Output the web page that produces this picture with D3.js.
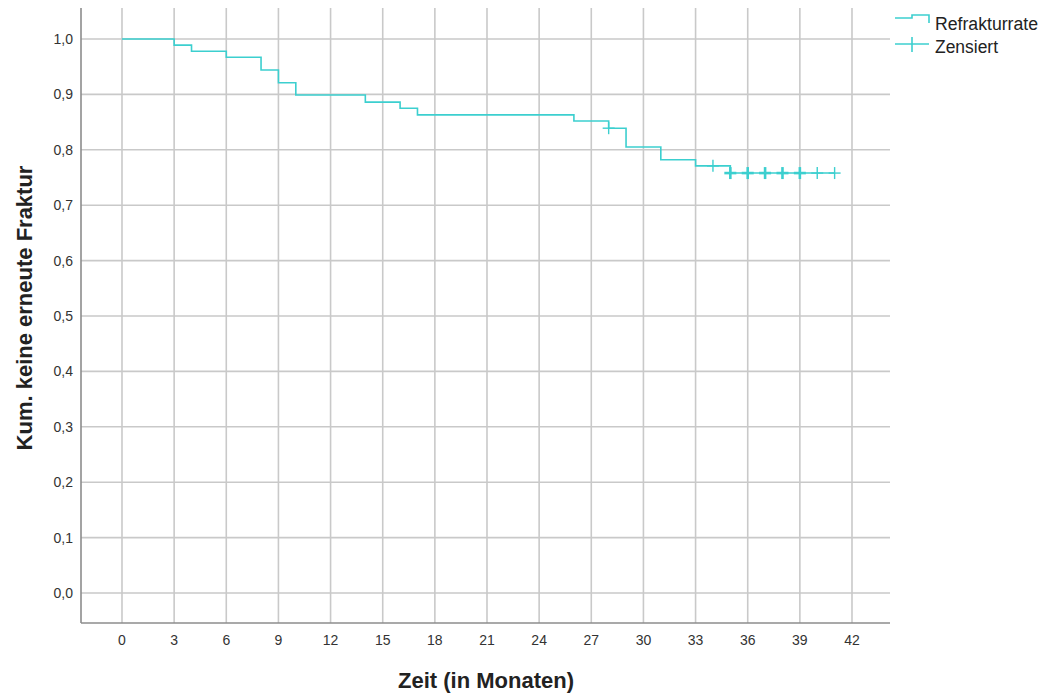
<!DOCTYPE html>
<html><head><meta charset="utf-8">
<script src="https://cdn.jsdelivr.net/npm/d3@7"></script>
<style>body{margin:0;background:#fff}svg{display:block}text{font-family:Arial,"Liberation Sans",sans-serif}</style>
</head><body>
<svg id="c" width="1042" height="695"></svg>
<script>
// Kaplan-Meier step points: time (months) and survival after the event
const stepTimes = [0, 3, 4, 6, 8, 9, 10, 14, 16, 17, 26, 28, 29, 31, 33, 35];
const stepSurv  = [1.0, 0.989, 0.978, 0.967, 0.944, 0.921, 0.899, 0.886, 0.875, 0.863, 0.852, 0.839, 0.805, 0.782, 0.771, 0.758];
const endTime = 41;
// censored observations: time, survival, count (multiplicity -> boldness)
const censTimes = [28, 34, 35, 36, 37, 38, 39, 40, 41];
const censSurv  = [0.839, 0.771, 0.758, 0.758, 0.758, 0.758, 0.758, 0.758, 0.758];
const censCount = [1, 1, 2, 2, 2, 2, 2, 1, 1];
const xTicks = [0,3,6,9,12,15,18,21,24,27,30,33,36,39,42];
const yTicks = [0,0.1,0.2,0.3,0.4,0.5,0.6,0.7,0.8,0.9,1.0];
const legendLabels = ["Refrakturrate", "Zensiert"];

const col = "#3ccfcf";
const svg = d3.select("#c");
const L = 81, R = 890, T = 8, B = 623;
const x = d3.scaleLinear().domain([0, 42]).range([122, 852]);
const y = d3.scaleLinear().domain([0, 1]).range([593, 39]);

// gridlines
svg.append("g").selectAll("line").data(xTicks).join("line")
  .attr("x1", d => x(d)).attr("x2", d => x(d)).attr("y1", T).attr("y2", B)
  .attr("stroke", "#c9c9c9").attr("stroke-width", 1.6);
svg.append("g").selectAll("line").data(yTicks).join("line")
  .attr("x1", L).attr("x2", R).attr("y1", d => y(d)).attr("y2", d => y(d))
  .attr("stroke", "#c9c9c9").attr("stroke-width", 1.6);
// axis lines
svg.append("line").attr("x1", L).attr("x2", L).attr("y1", T).attr("y2", B).attr("stroke", "#8c8c8c").attr("stroke-width", 1.6);
svg.append("line").attr("x1", L).attr("x2", R).attr("y1", B).attr("y2", B).attr("stroke", "#8c8c8c").attr("stroke-width", 1.6);

// tick labels
const fmt = d => d3.format(".1f")(d).replace(".", ",");
svg.append("g").selectAll("text").data(yTicks).join("text")
  .attr("x", 73).attr("y", d => y(d)).attr("dy", "0.36em").attr("text-anchor", "end")
  .attr("font-size", 14).attr("fill", "#333").text(fmt);
svg.append("g").selectAll("text").data(xTicks).join("text")
  .attr("x", d => x(d)).attr("y", 645).attr("text-anchor", "middle")
  .attr("font-size", 14).attr("fill", "#333").text(d => d);

// titles
svg.append("text").attr("x", 486).attr("y", 688).attr("text-anchor", "middle")
  .attr("font-size", 22).attr("font-weight", "bold").attr("fill", "#222").text("Zeit (in Monaten)");
svg.append("text").attr("transform", "translate(32,308) rotate(-90)").attr("text-anchor", "middle")
  .attr("font-size", 22).attr("font-weight", "bold").attr("fill", "#222").text("Kum. keine erneute Fraktur");

// step curve
const pts = [];
stepTimes.forEach((t, i) => {
  if (i > 0) pts.push([t, stepSurv[i-1]]);
  pts.push([t, stepSurv[i]]);
});
pts.push([endTime, stepSurv[stepSurv.length-1]]);
svg.append("path").datum(pts)
  .attr("d", d3.line().x(d => x(d[0])).y(d => y(d[1])))
  .attr("fill", "none").attr("stroke", col).attr("stroke-width", 1.6);

// censor marks
const cens = censTimes.map((t, i) => ({t, s: censSurv[i], n: censCount[i]}));
const cg = svg.append("g");
cens.forEach(c => {
  const cx = x(c.t), cy = y(c.s), w = c.n > 1 ? 2.6 : 1.4;
  cg.append("line").attr("x1", cx).attr("x2", cx).attr("y1", cy - 6).attr("y2", cy + 6).attr("stroke", col).attr("stroke-width", w);
  cg.append("line").attr("x1", cx - 6).attr("x2", cx + 6).attr("y1", cy).attr("y2", cy).attr("stroke", col).attr("stroke-width", w);
});

// legend
const lg = svg.append("g");
lg.append("path").attr("d", "M895,18H912V15H929V23").attr("fill", "none").attr("stroke", col).attr("stroke-width", 1.6);
lg.append("line").attr("x1", 895).attr("x2", 929).attr("y1", 44).attr("y2", 44).attr("stroke", col).attr("stroke-width", 1.6);
lg.append("line").attr("x1", 912).attr("x2", 912).attr("y1", 37).attr("y2", 52).attr("stroke", col).attr("stroke-width", 1.6);
const lw = [103, 63];
lg.selectAll("text.lg").data(legendLabels).join("text").attr("class", "lg")
  .attr("x", 935).attr("y", (d, i) => 30 + i * 23).attr("font-size", 18).attr("fill", "#222")
  .attr("textLength", (d, i) => lw[i]).attr("lengthAdjust", "spacingAndGlyphs").text(d => d);
</script>
</body></html>
